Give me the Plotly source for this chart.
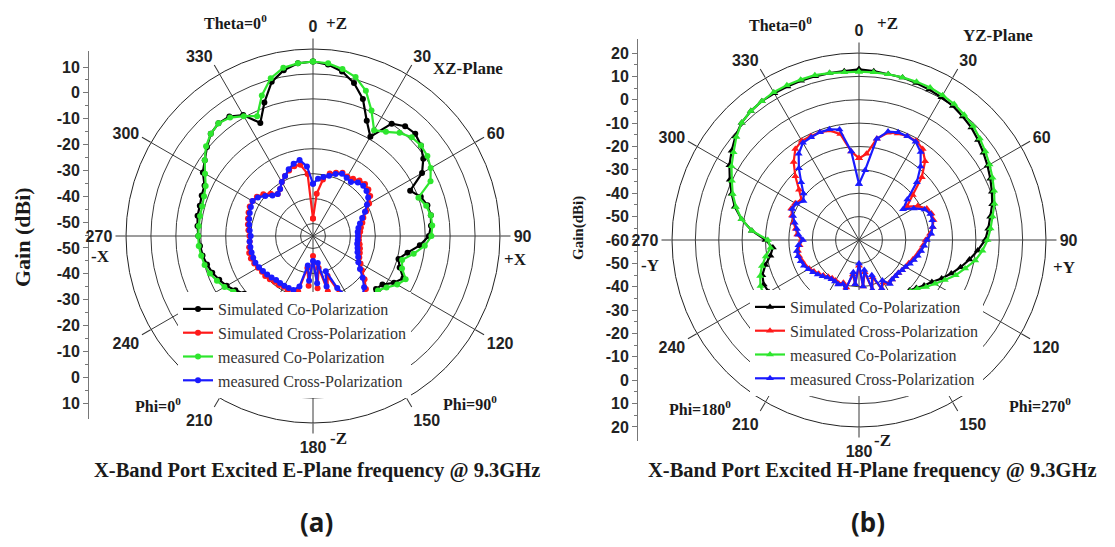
import plotly.graph_objects as go

W, H = 1115, 547

THETA = list(range(0, 360, 5))
ANG_TICKS = list(range(0, 360, 30))
ANG_LABELS = [str(a) for a in ANG_TICKS]

# ---------------- (a) E-plane, XZ ----------------
A_SIM_CO = [5, 4, 2, -1.5, -6.5, -14, -19, -10, -7.5, -7, -8.5, -11,
            -14.5, -22, -19, -17.5, -17, -17.5, -18.5, -22, -26.5, -29.5, -28, -25,
            -27.5, -31, -32, -31, -30, -31, -32, -33, -32, -31, -30, -30,
            -31, -32, -33, -33, -32, -31, -30, -30, -30, -29, -29, -27,
            -25, -23.5, -22, -21, -20, -19.5, -19, -18.5, -18, -18, -17.5, -17,
            -14, -12, -9.5, -7, -6, -6.5, -9, -15, -8, -1, 2.5, 4.5]
A_SIM_X = [-58, -48, -42, -39, -38, -37, -37.5, -37, -36, -35.5, -36, -37,
           -39, -41.5, -43.5, -44.5, -45.5, -46, -46.5, -46.5, -46, -45.5, -45, -44.5,
           -43, -41, -38, -35, -33, -33, -35, -40, -48, -42, -52, -44,
           -57, -45, -52, -42, -40, -41, -41.5, -41, -41, -40.5, -40, -40,
           -39.5, -39, -38.5, -38.5, -39, -39.5, -39.5, -39, -38.5, -38, -37.5, -37,
           -37, -37.5, -39, -41, -43, -42, -40, -38.5, -37, -36, -36, -40]
A_MEAS_CO = [5, 4.5, 3, 1, -3, -9.5, -16, -14, -11, -9, -8.5, -9,
             -10.5, -13, -20, -18, -17, -17, -17.5, -20, -24, -28, -27, -24,
             -26, -29, -31, -31, -30, -30, -31, -32, -31, -30, -29, -29,
             -30, -31, -32, -32, -31, -30, -29, -29, -29, -28.5, -28, -26,
             -24, -22.5, -21, -20, -19.5, -19, -19, -19, -19, -19, -18.5, -17.5,
             -15, -12, -9, -7, -6, -7, -9.5, -12, -5, 0.5, 3.5, 4.5]
A_MEAS_X = [-44, -42, -41, -40, -38.5, -37.5, -38, -38.5, -37, -36.5, -37, -38,
            -40, -42, -44, -45.5, -46.5, -47, -47, -47, -47, -46.5, -46, -45,
            -44, -42, -39, -36, -34, -34, -36, -42, -50, -44, -54, -46,
            -55, -47, -53, -44, -42, -42, -42, -42, -42, -41.5, -41, -40.5,
            -40, -39.5, -39.5, -39.5, -39.5, -39.5, -40, -39.5, -39, -38.5, -38, -37.5,
            -37, -38, -40, -42, -43, -42, -40, -38.5, -36.5, -35, -34, -37]

# ---------------- (b) H-plane, YZ ----------------
B_SIM_CO = [13, 12.5, 12, 12, 11.5, 11, 10.5, 10, 9, 8, 6.5, 5,
            3.5, 2, 0.5, -1, -3, -4.5, -6, -9, -12, -15, -18, -21,
            -24, -26, -28, -29.5, -30, -31, -32, -33, -34, -34, -35, -35,
            -35, -35, -34, -33, -32, -30, -28, -26, -24, -22, -19, -17,
            -15.5, -15, -16, -18.5, -21.5, -23, -20, -14, -9, -5, -2, 1,
            4, 6.5, 9, 11, 12, 12.5, 12.5, 12.5, 12.5, 12.5, 12.5, 12.5]
B_SIM_X = [-25, -23, -16, -12.5, -11.5, -11, -11, -12.5, -16, -22, -30, -35,
           -31, -28, -27, -27, -28, -29.5, -31.5, -32.5, -33.5, -34.5, -35.5, -36.5,
           -37, -37.5, -38, -38, -38, -37.5, -39, -37, -43, -38, -46, -40,
           -49, -41, -45, -39, -40.5, -39.5, -40, -40, -39.5, -38.5, -37.5, -36.5,
           -35.5, -34.5, -34, -33.5, -33.5, -34.5, -35.5, -33.5, -32.5, -31, -29.5, -28,
           -28.5, -30, -26.5, -21.5, -16.5, -12.5, -11, -11, -11, -11.5, -14, -22]
B_MEAS_CO = [12, 12, 12, 12, 12, 12, 11.5, 11, 10, 9, 7.5, 6,
             4.5, 3, 1.5, 0, -2, -3.5, -5, -7, -9.5, -13, -16, -19.5,
             -22.5, -25, -27.5, -29, -30, -31, -32, -33, -33, -34, -34, -34,
             -34, -34, -33, -32, -30, -28, -26, -24, -21, -18, -16, -14,
             -13, -13.5, -15, -17, -19.5, -22, -21, -14, -9, -5.5, -2.5, 0,
             3, 5.5, 8.5, 11, 12, 12.5, 13, 13, 13, 13, 12.5, 12]
B_MEAS_X = [-36, -30, -16, -12, -11, -11, -11.5, -14, -19, -25, -33, -37,
            -33, -29, -27.5, -27.5, -28, -29, -31, -32, -33, -34, -35, -36,
            -37, -37.5, -38, -38, -38, -37, -40, -37, -44, -38, -47, -40,
            -50, -41, -46, -38, -40, -39, -39.5, -39.5, -39, -38, -37, -36,
            -35, -34, -33.5, -33, -33, -34, -36, -34, -33, -31.5, -30, -28.5,
            -29, -31, -29, -25, -20, -15, -12, -11.5, -11, -11, -12, -22]

SERIES_NAMES = ["Simulated Co-Polarization", "Simulated Cross-Polarization",
                "measured Co-Polarization", "measured Cross-Polarization"]
COLORS = ["#000000", "#ff1a1a", "#2ee62e", "#1a1aff"]

A_RADIAL_TICKS = [-60, -50, -40, -30, -20, -10, 0, 10]
B_RADIAL_TICKS = [-60, -50, -40, -30, -20, -10, 0, 10, 20]

# left linear gain scales as printed beside each plot (top to bottom)
A_LEFT_LABELS = ["10", "0", "-10", "-20", "-30", "-40", "-50",
                 "-50", "-40", "-30", "-20", "-10", "0", "10"]
B_LEFT_LABELS = ["20", "10", "0", "-10", "-20", "-30", "-40", "-50", "-60",
                 "-50", "-40", "-30", "-20", "-10", "0", "10", "20"]

SERIF = "Liberation Serif, Times New Roman, serif"
SANS = "Liberation Sans, Arial, sans-serif"


def closed(v):
    return list(v) + [v[0]]


fig = go.Figure()

for vals, name, col in zip([A_SIM_CO, A_SIM_X, A_MEAS_CO, A_MEAS_X], SERIES_NAMES, COLORS):
    fig.add_trace(go.Scatterpolar(
        r=closed(vals), theta=closed(THETA), mode="lines+markers", name=name,
        line=dict(color=col, width=2.2), marker=dict(symbol="circle", size=6, color=col),
        subplot="polar", legend="legend"))

for vals, name, col in zip([B_SIM_CO, B_SIM_X, B_MEAS_CO, B_MEAS_X], SERIES_NAMES, COLORS):
    fig.add_trace(go.Scatterpolar(
        r=closed(vals), theta=closed(THETA), mode="lines+markers", name=name,
        line=dict(color=col, width=2.2), marker=dict(symbol="triangle-up", size=7, color=col),
        subplot="polar2", legend="legend2"))

# dummy traces to host the printed left scales
fig.add_trace(go.Scatter(x=[None], y=[None], xaxis="x", yaxis="y", showlegend=False))
fig.add_trace(go.Scatter(x=[None], y=[None], xaxis="x2", yaxis="y2", showlegend=False))


def px_dom_x(a, b):
    return [a / W, b / W]


def px_dom_y(top, bottom):
    return [1 - bottom / H, 1 - top / H]


def polar_layout(cx, cy, rad, rng, rticks):
    return dict(
        domain=dict(x=px_dom_x(cx - rad, cx + rad), y=px_dom_y(cy - rad, cy + rad)),
        bgcolor="white",
        radialaxis=dict(range=rng, tickmode="array", tickvals=rticks, showticklabels=False,
                        ticks="", showline=False, gridcolor="#3a3a3a", gridwidth=0.9),
        angularaxis=dict(rotation=90, direction="clockwise", tickmode="array",
                         tickvals=ANG_TICKS, ticktext=ANG_LABELS,
                         tickfont=dict(family=SANS, size=16, color="#222", weight="bold"),
                         ticks="outside", ticklen=10, tickcolor="#333",
                         showline=True, linecolor="#222", linewidth=1,
                         gridcolor="#3a3a3a", gridwidth=0.9),
    )


def left_axis(labels, top_px, bot_px, xpos):
    n = len(labels)
    step = (bot_px - top_px) / (n - 1)
    pad = 0.6
    dom = px_dom_y(top_px - pad * step, bot_px + pad * step)
    return dict(
        domain=dom, range=[-pad, n - 1 + pad], anchor="free", position=xpos / W,
        tickmode="array", tickvals=list(range(n)), ticktext=list(reversed(labels)),
        ticks="outside", ticklen=5, tickcolor="#777", showline=True, linecolor="#777",
        linewidth=1, showgrid=False, zeroline=False,
        tickfont=dict(family=SANS, size=16, color="#222", weight="bold"),
        minor=dict(tickvals=[i + 0.5 for i in range(n - 1)], ticks="outside", ticklen=3,
                   tickcolor="#777", showgrid=False),
    )


def ann(text, x, y, size=15, family=SERIF, angle=0, xanchor="center"):
    return dict(text=text, x=x / W, y=1 - y / H, xref="paper", yref="paper",
                showarrow=False, textangle=angle, xanchor=xanchor, yanchor="middle",
                font=dict(family=family, size=size, color="#1a1a1a"))


annotations = [
    # (a)
    ann("<b>Theta=0<sup>0</sup></b>", 235, 22, size=16),
    ann("<b>+Z</b>", 336, 24, size=17),
    ann("<b>XZ-Plane</b>", 468, 68, size=17),
    ann("<b>-X</b>", 100, 256, size=17),
    ann("<b>+X</b>", 515, 259, size=17),
    ann("<b>Phi=0<sup>0</sup></b>", 158, 405, size=16),
    ann("<b>Phi=90<sup>0</sup></b>", 470, 403, size=16),
    ann("<b>-Z</b>", 338, 438, size=17),
    ann("<b>Gain (dBi)</b>", 22, 237, size=22, angle=-90),
    ann("<b>X-Band Port Excited E-Plane frequency @ 9.3GHz</b>", 317, 470, size=20.5),
    ann("<b>(a)</b>", 316, 522, size=26, family="Noto Sans, Open Sans, sans-serif"),
    # (b)
    ann("<b>Theta=0<sup>0</sup></b>", 780, 24, size=16),
    ann("<b>+Z</b>", 887, 24, size=17),
    ann("<b>YZ-Plane</b>", 998, 35, size=17),
    ann("<b>-Y</b>", 650, 265, size=17),
    ann("<b>+Y</b>", 1064, 268, size=17),
    ann("<b>Phi=180<sup>0</sup></b>", 700, 408, size=16),
    ann("<b>Phi=270<sup>0</sup></b>", 1040, 405, size=16),
    ann("<b>-Z</b>", 882, 440, size=17),
    ann("<b>Gain(dBi)</b>", 578, 228, size=15, angle=-90),
    ann("<b>X-Band Port Excited H-Plane frequency @ 9.3GHz</b>", 872, 470, size=20.5),
    ann("<b>(b)</b>", 868, 522, size=26, family="Noto Sans, Open Sans, sans-serif"),
]

legend_common = dict(bgcolor="white", borderwidth=0, xanchor="left", yanchor="top",
                     font=dict(family=SERIF, size=16, color="#333"), tracegroupgap=0,
                     itemwidth=30)

fig.update_layout(
    width=W, height=H, margin=dict(l=0, r=0, t=0, b=0),
    paper_bgcolor="white", plot_bgcolor="white",
    polar=polar_layout(313, 236, 187, [-65, 10], A_RADIAL_TICKS),
    polar2=polar_layout(859, 240, 187, [-60, 20], B_RADIAL_TICKS),
    xaxis=dict(domain=[0.0, 0.001], visible=False, range=[0, 1]),
    xaxis2=dict(domain=[0.55, 0.551], visible=False, range=[0, 1]),
    yaxis=left_axis(A_LEFT_LABELS, 67, 403, 88),
    yaxis2=left_axis(B_LEFT_LABELS, 53, 427, 637),
    legend=dict(x=178 / W, y=1 - 292 / H, **legend_common),
    legend2=dict(x=750 / W, y=1 - 290 / H, **legend_common),
    annotations=annotations,
    showlegend=True,
)

fig.write_html("out.html")
